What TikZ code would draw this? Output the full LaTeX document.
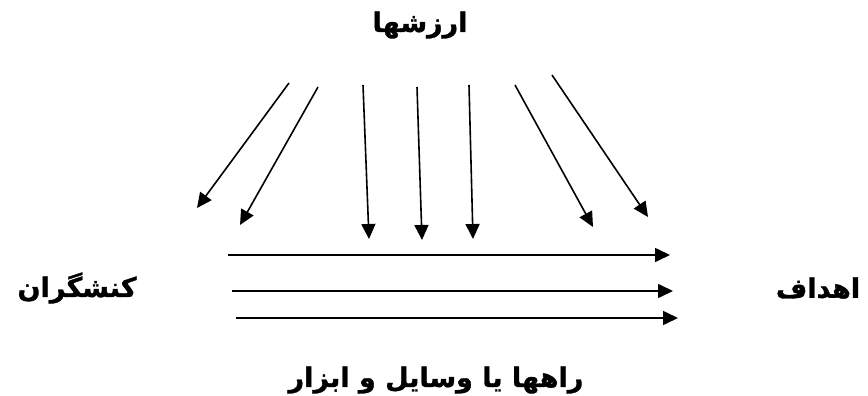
\documentclass[tikz,border=0pt]{standalone}
\usepackage{fontspec}
\usetikzlibrary{arrows.meta}
\TeXXeTstate=1
\newfontfamily\arabicfont[Script=Arabic,BoldFeatures={FakeBold=1.2}]{DejaVu Sans}
\begin{document}
\begin{tikzpicture}[x=1pt,y=-1pt,
  arr/.style={line width=1.6pt,-{Triangle[length=15pt,width=14pt]}},
  lbl/.style={font=\arabicfont\bfseries\fontsize{27}{30}\selectfont,inner sep=0pt}]
\useasboundingbox (0,0) rectangle (868,396);
\node[lbl] (val) at (420,25) {\beginR ارزشها\endR};
\node[lbl] (act) at (77,288) {\beginR کنشگران\endR};
\node[lbl] (goal) at (818,288) {\beginR اهداف\endR};
\node[lbl] (means) at (436,380) {\beginR راهها یا وسایل و ابزار\endR};
% value arrows
\coordinate (s1) at (289,83);  \coordinate (t1) at (197,208);
\coordinate (s2) at (318,87);  \coordinate (t2) at (240,225);
\coordinate (s3) at (363,85);  \coordinate (t3) at (369,239);
\coordinate (s4) at (417,87);  \coordinate (t4) at (422,240);
\coordinate (s5) at (469,85);  \coordinate (t5) at (473,239);
\coordinate (s6) at (515,85);  \coordinate (t6) at (593,227);
\coordinate (s7) at (552,75);  \coordinate (t7) at (648,217);
\foreach \i in {1,...,7} \draw[arr] (s\i) -- (t\i);
% means arrows
\coordinate (h1s) at (228,255); \coordinate (h1e) at (670,255);
\coordinate (h2s) at (232,291); \coordinate (h2e) at (673,291);
\coordinate (h3s) at (236,318); \coordinate (h3e) at (678,318);
\foreach \i in {1,2,3} \draw[arr] (h\i s) -- (h\i e);
\end{tikzpicture}
\end{document}
